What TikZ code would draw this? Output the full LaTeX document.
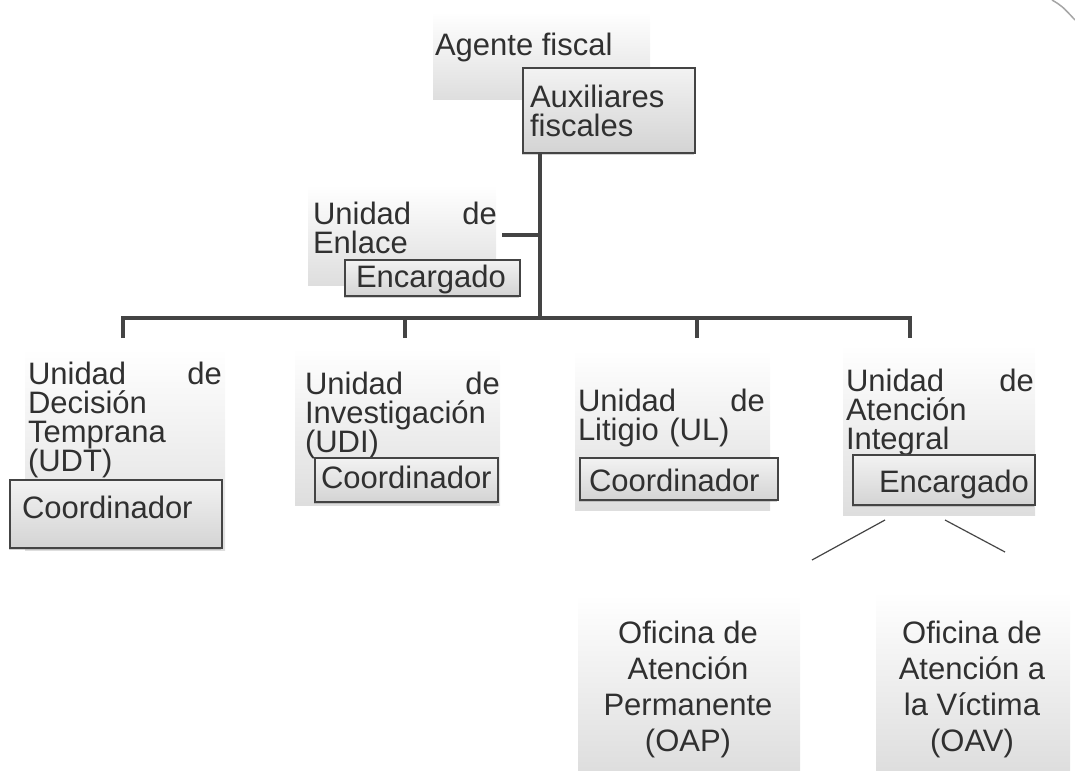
\documentclass[tikz,border=0pt]{standalone}
\usepackage{fontspec}
\setmainfont{Liberation Sans}
\usepackage{tikz}
\usetikzlibrary{positioning,shadows}
\definecolor{ink}{HTML}{303030}
\definecolor{rule}{HTML}{444444}

\begin{document}
\begin{tikzpicture}
  [
    x=1pt,y=-1pt,
    every node/.style={inner sep=0pt,outer sep=0pt,text=ink},
    unitbox/.style={rectangle,anchor=north west,top color=white,bottom color=black!13,draw=none},
    postbox/.style={rectangle,anchor=north west,draw=rule,line width=1.4pt,top color=black!5,bottom color=black!17,
      drop shadow={shadow xshift=-1.5pt,shadow yshift=-2pt,opacity=0.35}},
    words/.style={anchor=north west,align=left,font=\fontsize{31}{29}\selectfont},
    middle/.style={anchor=north,align=center,font=\fontsize{31}{36}\selectfont},
    bar/.style={draw=rule,line width=3.5pt},
    twig/.style={draw=rule,line width=1.2pt}
  ]
  \useasboundingbox (0,0) rectangle (1075,773);

  % top
  \node[unitbox,minimum width=217pt,minimum height=88pt] (agent) at (433,12) {};
  \node[words] (agent text) at (435,33) {Agente fiscal};
  \node[postbox,minimum width=172pt,minimum height=85pt] (aux) at (523,68) {};
  \node[words] (aux text) at (530,85) {Auxiliares\\fiscales};

  % liaison unit
  \node[unitbox,minimum width=188pt,minimum height=100pt] (enlace) at (308,185) {};
  \node[words,text width=184pt] (enlace text) at (313,202) {Unidad\hfill de\\Enlace};
  \node[postbox,minimum width=175pt,minimum height=36pt] (enlace post) at (345,260) {};
  \node[words] (enlace post text) at (356,265) {Encargado};

  % units
  \node[unitbox,minimum width=200pt,minimum height=202pt] (udt) at (25,348) {};
  \node[words,text width=194pt] (udt text) at (28,362) {Unidad\hfill de\\Decisión\\Temprana\\(UDT)};
  \node[postbox,minimum width=212pt,minimum height=68pt] (udt post) at (10,480) {};
  \node[words] (udt post text) at (22,496) {Coordinador};

  \node[unitbox,minimum width=205pt,minimum height=157pt] (udi) at (295,348) {};
  \node[words,text width=195pt] (udi text) at (305,372) {Unidad\hfill de\\Investigación\\(UDI)};
  \node[postbox,minimum width=183pt,minimum height=44pt] (udi post) at (315,458) {};
  \node[words] (udi post text) at (321,466) {Coordinador};

  \node[unitbox,minimum width=195pt,minimum height=160pt] (ul) at (575,350) {};
  \node[words,text width=187pt] (ul text) at (578,389) {Unidad\hfill de\\Litigio (UL)};
  \node[postbox,minimum width=198pt,minimum height=42pt] (ul post) at (580,458) {};
  \node[words] (ul post text) at (589,469) {Coordinador};

  \node[unitbox,minimum width=192pt,minimum height=170pt] (uai) at (843,345) {};
  \node[words,text width=188pt] (uai text) at (846,369) {Unidad\hfill de\\Atención\\Integral};
  \node[postbox,minimum width=182pt,minimum height=50pt] (uai post) at (853,455) {};
  \node[words] (uai post text) at (879,470) {Encargado};

  % offices
  \node[unitbox,minimum width=222pt,minimum height=175pt] (oap) at (578,595) {};
  \node[middle] (oap text) at (688,621) {Oficina de\\Atención\\Permanente\\(OAP)};
  \node[unitbox,minimum width=194pt,minimum height=178pt] (oav) at (876,592) {};
  \node[middle] (oav text) at (972,621) {Oficina de\\Atención a\\la Víctima\\(OAV)};

  % connectors
  \coordinate (bus) at (540,318);
  \coordinate (udt top) at (123,338);
  \coordinate (udi top) at (405,338);
  \coordinate (ul top) at (697,338);
  \coordinate (uai top) at (910,338);
  \draw[bar] (aux.south -| bus) -- (bus);
  \draw[bar] ([xshift=6pt]enlace.east) -- (enlace.east -| bus);
  \draw[bar] (udt top) |- (uai top |- bus) -- (uai top);
  \draw[bar] (udi top) -- (udi top |- bus);
  \draw[bar] (ul top) -- (ul top |- bus);

  \coordinate (fork l) at (885,520);
  \coordinate (fork r) at (945,520);
  \coordinate (oap fork) at (812,560);
  \coordinate (oav fork) at (1005,552);
  \draw[twig] (fork l) -- (oap fork);
  \draw[twig] (fork r) -- (oav fork);

  \draw[black!35,line width=1.5pt] (1052,0) .. controls (1062,6) .. (1075,20);
\end{tikzpicture}
\end{document}
